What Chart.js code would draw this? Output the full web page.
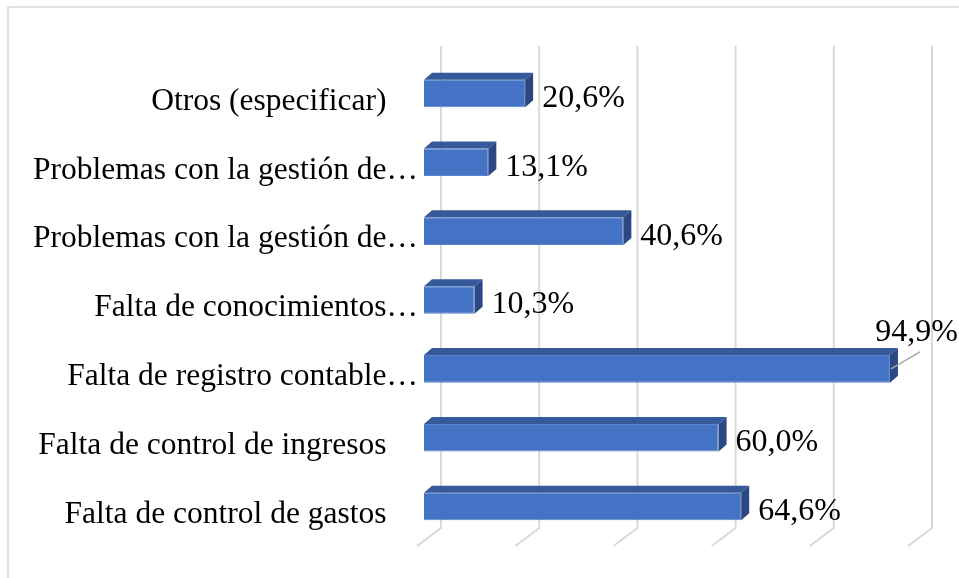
<!DOCTYPE html>
<html>
<head>
<meta charset="utf-8">
<script src="https://cdn.jsdelivr.net/npm/chart.js@4.4.0/dist/chart.umd.min.js"></script>
<style>
    html, body { margin: 0; padding: 0; background: #fff; }
    #wrap { width: 959px; height: 578px; position: relative; }
</style>
</head>
<body>
<div id="wrap"><canvas id="chart"></canvas></div>
<script>
// Chart data (top to bottom, as shown)
const categories = [
    'Otros (especificar)',
    'Problemas con la gestión de…',
    'Problemas con la gestión de…',
    'Falta de conocimientos…',
    'Falta de registro contable…',
    'Falta de control de ingresos',
    'Falta de control de gastos'
];
const values = [20.6, 13.1, 40.6, 10.3, 94.9, 60.0, 64.6];
const gridValues = [0, 20, 40, 60, 80, 100];

const FONT = '"Liberation Serif", "Times New Roman", serif';

// 3D look
const depth = { x: 8, y: -7 };
const wall = { x: 17, y: -13, floorX: -7, floorY: 5 };

function fmt(v) {
    return v.toFixed(1).replace('.', ',') + '%';
}

// Frame, slanted back-wall gridlines, 3D faces and value labels
const wallPlugin = {
    id: 'wall',
    beforeDatasetsDraw(chart) {
        const { ctx, chartArea, scales } = chart;
        ctx.save();
        ctx.strokeStyle = '#d9d9d9';
        ctx.lineWidth = 1.5;
        ctx.beginPath();
        ctx.moveTo(8, chart.height);
        ctx.lineTo(8, 7);
        ctx.lineTo(chart.width, 7);
        ctx.stroke();

        ctx.lineWidth = 2;
        gridValues.forEach(v => {
            const px = scales.x.getPixelForValue(v);
            ctx.beginPath();
            ctx.moveTo(px + wall.x, chartArea.top + wall.y);
            ctx.lineTo(px + wall.x, chartArea.bottom + wall.y);
            ctx.lineTo(px + wall.floorX, chartArea.bottom + wall.floorY);
            ctx.stroke();
        });
        ctx.restore();
    },
    afterDatasetsDraw(chart) {
        const { ctx } = chart;
        const meta = chart.getDatasetMeta(0);
        ctx.save();
        meta.data.forEach(bar => {
            const left = bar.base, right = bar.x;
            const top = bar.y - bar.height / 2, bottom = bar.y + bar.height / 2;
            // top face
            ctx.fillStyle = '#36599a';
            ctx.beginPath();
            ctx.moveTo(left, top);
            ctx.lineTo(left + depth.x, top + depth.y);
            ctx.lineTo(right + depth.x, top + depth.y);
            ctx.lineTo(right, top);
            ctx.closePath();
            ctx.fill();
            // right face
            ctx.fillStyle = '#2b4882';
            ctx.beginPath();
            ctx.moveTo(right, top);
            ctx.lineTo(right + depth.x, top + depth.y);
            ctx.lineTo(right + depth.x, bottom + depth.y);
            ctx.lineTo(right, bottom);
            ctx.closePath();
            ctx.fill();
        });

        // data labels
        ctx.font = '32px ' + FONT;
        ctx.fillStyle = '#000';
        ctx.textBaseline = 'middle';
        meta.data.forEach((bar, i) => {
            const txt = fmt(values[i]);
            const w = ctx.measureText(txt).width;
            const x = bar.x + depth.x + 9;
            if (x + w > chart.width - 1) {
                // no room: put it above, with a leader line
                ctx.strokeStyle = '#a6a6a6';
                ctx.lineWidth = 1.5;
                ctx.beginPath();
                ctx.moveTo(bar.x + 1, bar.y);
                ctx.lineTo(bar.x + 30, bar.y - 17);
                ctx.stroke();
                ctx.textAlign = 'right';
                ctx.fillText(txt, chart.width - 1, bar.y - 36);
            } else {
                ctx.textAlign = 'left';
                ctx.fillText(txt, x, bar.y + 5);
            }
        });
        ctx.restore();
    }
};

new Chart(document.getElementById('chart'), {
    type: 'bar',
    data: {
        labels: categories,
        datasets: [{
            data: values,
            backgroundColor: '#4472c4',
            borderColor: '#5a83cc',
            borderWidth: 1,
            barPercentage: 0.8,
            categoryPercentage: 0.5
        }]
    },
    options: {
        indexAxis: 'y',
        responsive: true,
        maintainAspectRatio: false,
        animation: false,
        layout: {
            padding: { top: 59, bottom: 37, left: 0, right: 44 }
        },
        plugins: {
            legend: { display: false },
            tooltip: { enabled: false }
        },
        scales: {
            x: {
                display: false,
                min: 0,
                max: 100
            },
            y: {
                afterFit(scale) { scale.width = 424; },
                grid: { display: false, drawTicks: false },
                border: { display: false },
                ticks: {
                    autoSkip: false,
                    color: '#000',
                    padding: 6,
                    labelOffset: 8,
                    font: { family: FONT, size: 31.5 },
                    callback: function(value, index) {
                        const label = categories[index];
                        return label.endsWith('…') ? label : label + '    ';
                    }
                }
            }
        }
    },
    plugins: [wallPlugin]
});
</script>
</body>
</html>
